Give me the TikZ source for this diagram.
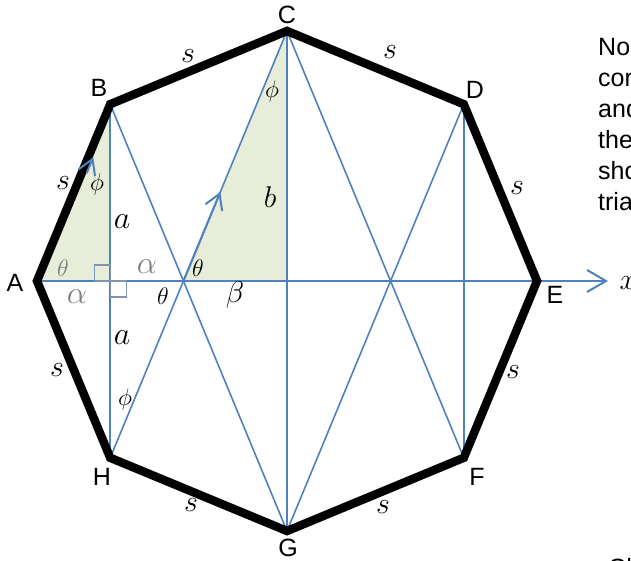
\RequirePackage{fix-cm}
\documentclass[tikz,border=0pt]{standalone}
\usepackage{fontspec}
\newfontfamily\lblfont{Liberation Sans}
\usetikzlibrary{arrows.meta, positioning, calc}
\definecolor{chordblue}{HTML}{4F81BD}
\definecolor{trifill}{HTML}{E6EDD8}
\definecolor{markgray}{HTML}{7F95B1}
\definecolor{txtgray}{HTML}{7F7F7F}
\tikzset{
  edge/.style  = {draw=black, line width=8.5pt, line join=miter},
  chord/.style = {draw=chordblue, line width=1.6pt},
  shade/.style = {fill=trifill, draw=none},
  axis/.style  = {chord, line width=2pt, -{Straight Barb[length=19pt,width=22pt]}},
  vec/.style   = {draw=chordblue, line width=2pt, -{Straight Barb[length=15pt,width=18pt]}},
  rtang/.style = {draw=markgray, line width=1.2pt},
  vtx/.style   = {inner sep=0pt, font=\lblfont\fontsize{25}{25}\selectfont},
  note/.style  = {inner sep=0pt, anchor=base west, font=\lblfont\fontsize{25}{25}\selectfont},
  side/.style  = {inner sep=0pt, font=\fontsize{30}{30}\selectfont},
  ang/.style   = {inner sep=0pt, font=\fontsize{24}{24}\selectfont},
  big/.style   = {inner sep=0pt, font=\fontsize{32}{32}\selectfont},
}

\begin{document}
\begin{tikzpicture}[x=1pt, y=1pt]

  % -- page frame (631 x 561) --------------------------------------
  \clip (-287,-280) rectangle (344,281);

  % -- octagon corners and helper points ---------------------------
  \foreach \n/\a in {E/0, D/45, C/90, B/135, A/180, H/225, G/270, F/315}
    \coordinate (\n) at (\a:250);
  \coordinate (O) at (0,0);
  \coordinate (K) at (B |- O);
  \coordinate (P) at (intersection of B--G and A--E);
  \coordinate (Q) at (intersection of C--F and A--E);
  \coordinate (xend) at (321,0);

  % -- shaded right triangles --------------------------------------
  \fill[shade] (A) -- (B) -- (K) -- cycle;
  \fill[shade] (P) -- (C) -- (O) -- cycle;

  % -- chords --------------------------------------------------------
  \draw[chord] (B) -- (G);
  \draw[chord] (C) -- (H);
  \draw[chord] (C) -- (F);
  \draw[chord] (D) -- (G);
  \draw[chord] (B) -- (H);
  \draw[chord] (C) -- (G);
  \draw[chord] (D) -- (F);
  \draw[axis]  (A) -- (xend);

  % right angle marks at K
  \draw[rtang] (K) rectangle ++(-16,16);
  \draw[rtang] (K) rectangle ++(16,-16);

  % -- the octagon ---------------------------------------------------
  \draw[edge] (A) -- (B) -- (C) -- (D) -- (E) -- (F) -- (G) -- (H) -- cycle;

  % direction arrows
  \draw[vec] ($(A)!0.61!(B)+(5,0)$) -- ($(A)!0.70!(B)+(5,0)$);
  \draw[vec] (P) -- ($(P)!0.356!(C)$);

  % -- corner letters --------------------------------------------------
  \node[vtx] (lA) at (-272,-2)   {A};
  \node[vtx] (lB) at (-188,193)  {B};
  \node[vtx] (lC) at (0,266)     {C};
  \node[vtx] (lD) at (188,191)   {D};
  \node[vtx] (lE) at (268,-14)   {E};
  \node[vtx] (lF) at (190,-196)  {F};
  \node[vtx] (lG) at (1,-267)    {G};
  \node[vtx] (lH) at (-185,-196) {H};
  \node[side] (lx) at (341,-2)   {$x$};

  % -- side lengths ------------------------------------------------------
  \node[side] (sAB) at (-224,98)  {$s$};
  \node[side] (sBC) at (-99,225)  {$s$};
  \node[side] (sCD) at (103,229)  {$s$};
  \node[side] (sDE) at (230,93)   {$s$};
  \node[side] (sEF) at (226,-91)  {$s$};
  \node[side] (sFG) at (96,-226)  {$s$};
  \node[side] (sGH) at (-96,-224) {$s$};
  \node[side] (sHA) at (-230,-89) {$s$};

  % -- angles and legs ---------------------------------------------------
  \node[ang] (phB) at (-190,96)   {$\phi$};
  \node[ang] (phC) at (-15,189)   {$\phi$};
  \node[ang] (phH) at (-162,-119) {$\phi$};
  \node[big] (aup) at (-165,59)   {$a$};
  \node[big] (adn) at (-165,-57)  {$a$};
  \node[side] (bb) at (-17,84)    {$b$};
  \node[ang, text=txtgray] (thA) at (-224,13) {$\theta$};
  \node[ang] (thP) at (-89,13)    {$\theta$};
  \node[ang] (thQ) at (-124,-15)  {$\theta$};
  \node[big, text=txtgray] (alup) at (-140,14)  {$\alpha$};
  \node[big, text=txtgray] (aldn) at (-210,-16) {$\alpha$};
  \node[side] (be) at (-52,-14)   {$\beta$};

  % -- text running off the right edge -----------------------------------
  \foreach \w [count=\i] in {No, cor, and, the, sho, tria}
    \node[note] at (311, 256-31*\i) {\w};
  \node[note] at (321,-295) {Ch};

\end{tikzpicture}
\end{document}
